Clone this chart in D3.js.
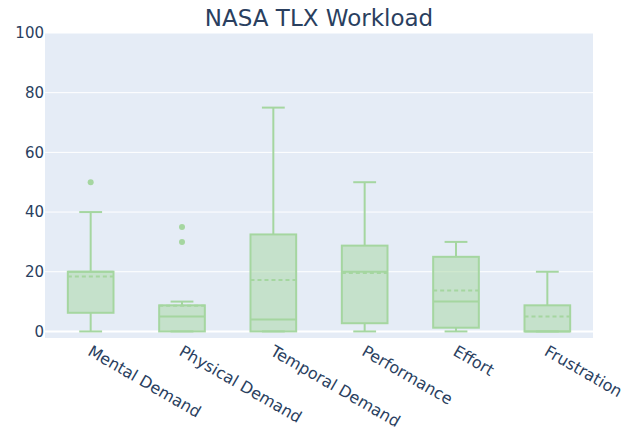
<!DOCTYPE html>
<html lang="en">
  <head>
    <meta charset="UTF-8" />
    <script src="https://d3js.org/d3.v7.min.js"></script>
    <style>
      body { margin: 0; background: white; }
      text { font-family: "DejaVu Sans", Verdana, sans-serif; fill: #2a3f5f; }
    </style>
  </head>
  <body>
    <svg id="chart" width="636" height="431"></svg>
    <script>
      // box stats
      const categories = ["Mental Demand", "Physical Demand", "Temporal Demand", "Performance", "Effort", "Frustration"];
      const lowerFence = [0, 0, 0, 0, 0, 0];
      const q1 = [6.25, 0, 0, 2.75, 1.25, 0];
      const median = [20, 5, 4, 20, 10, 0];
      const q3 = [20, 8.75, 32.5, 28.75, 25, 8.75];
      const upperFence = [40, 10, 75, 50, 30, 20];
      const means = [18.4, 8.6, 17.2, 19.6, 13.7, 5];
      const outliers = [[50], [35, 30], [], [], [], []];
      const yTicks = [0, 20, 40, 60, 80, 100];

      const svg = d3.select("#chart");
      const margin = { left: 45, right: 43, top: 33, bottom: 93 };
      const width = 636 - margin.left - margin.right;
      const height = 431 - margin.top - margin.bottom;
      const lineColor = "#a5d6a0";

      const x = d3.scaleBand().domain(categories).range([0, width]);
      const y = d3.scaleLinear().domain([-2.2, 100]).range([height, 0]);

      svg.append("text")
        .attr("x", 319).attr("y", 26)
        .attr("text-anchor", "middle")
        .style("font-size", "23px")
        .text("NASA TLX Workload");

      const g = svg.append("g").attr("transform", `translate(${margin.left},${margin.top})`);

      g.append("rect").attr("width", width).attr("height", height).attr("fill", "#e5ecf6");

      // grid
      g.selectAll(".grid").data(yTicks).join("line")
        .attr("x1", 0).attr("x2", width)
        .attr("y1", d => y(d)).attr("y2", d => y(d))
        .attr("stroke", "white").attr("stroke-width", d => d === 0 ? 2 : 1);

      const yAxis = g.append("g").call(d3.axisLeft(y).tickValues(yTicks).tickSize(0).tickPadding(1));
      yAxis.select(".domain").remove();
      yAxis.selectAll("text").style("font-size", "15px").attr("fill", "#2a3f5f");

      // x labels, rotated
      g.selectAll(".xlab").data(categories).join("text")
        .attr("text-anchor", "start")
        .attr("transform", d => `translate(${x(d) + x.bandwidth() / 2 + 2},${height + 6}) rotate(30)`)
        .attr("dy", "0.75em")
        .style("font-size", "16px")
        .text(d => d);

      const bw = x.bandwidth() * 0.5;
      const boxes = g.selectAll(".box").data(categories).join("g")
        .attr("transform", d => `translate(${x(d) + x.bandwidth() / 2},0)`);

      // whiskers
      boxes.append("line")
        .attr("x1", 0).attr("x2", 0)
        .attr("y1", (d, i) => y(upperFence[i])).attr("y2", (d, i) => y(q3[i]))
        .attr("stroke", lineColor).attr("stroke-width", 2);
      boxes.append("line")
        .attr("x1", 0).attr("x2", 0)
        .attr("y1", (d, i) => y(lowerFence[i])).attr("y2", (d, i) => y(q1[i]))
        .attr("stroke", lineColor).attr("stroke-width", 2);
      boxes.append("line")
        .attr("x1", -bw / 4).attr("x2", bw / 4)
        .attr("y1", (d, i) => y(upperFence[i])).attr("y2", (d, i) => y(upperFence[i]))
        .attr("stroke", lineColor).attr("stroke-width", 2);
      boxes.append("line")
        .attr("x1", -bw / 4).attr("x2", bw / 4)
        .attr("y1", (d, i) => y(lowerFence[i])).attr("y2", (d, i) => y(lowerFence[i]))
        .attr("stroke", lineColor).attr("stroke-width", 2);

      // box
      boxes.append("rect")
        .attr("x", -bw / 2).attr("width", bw)
        .attr("y", (d, i) => y(q3[i]))
        .attr("height", (d, i) => y(q1[i]) - y(q3[i]))
        .attr("fill", lineColor).attr("fill-opacity", 0.5)
        .attr("stroke", lineColor).attr("stroke-width", 2);

      // median
      boxes.append("line")
        .attr("x1", -bw / 2).attr("x2", bw / 2)
        .attr("y1", (d, i) => y(median[i])).attr("y2", (d, i) => y(median[i]))
        .attr("stroke", lineColor).attr("stroke-width", 2);

      // mean (dashed)
      boxes.append("line")
        .attr("x1", -bw / 2).attr("x2", bw / 2)
        .attr("y1", (d, i) => y(means[i])).attr("y2", (d, i) => y(means[i]))
        .attr("stroke", lineColor).attr("stroke-width", 2)
        .attr("stroke-dasharray", "4,3");

      // outliers
      boxes.selectAll("circle").data((d, i) => outliers[i]).join("circle")
        .attr("cx", 0).attr("cy", v => y(v)).attr("r", 3)
        .attr("fill", lineColor);
    </script>
  </body>
</html>
